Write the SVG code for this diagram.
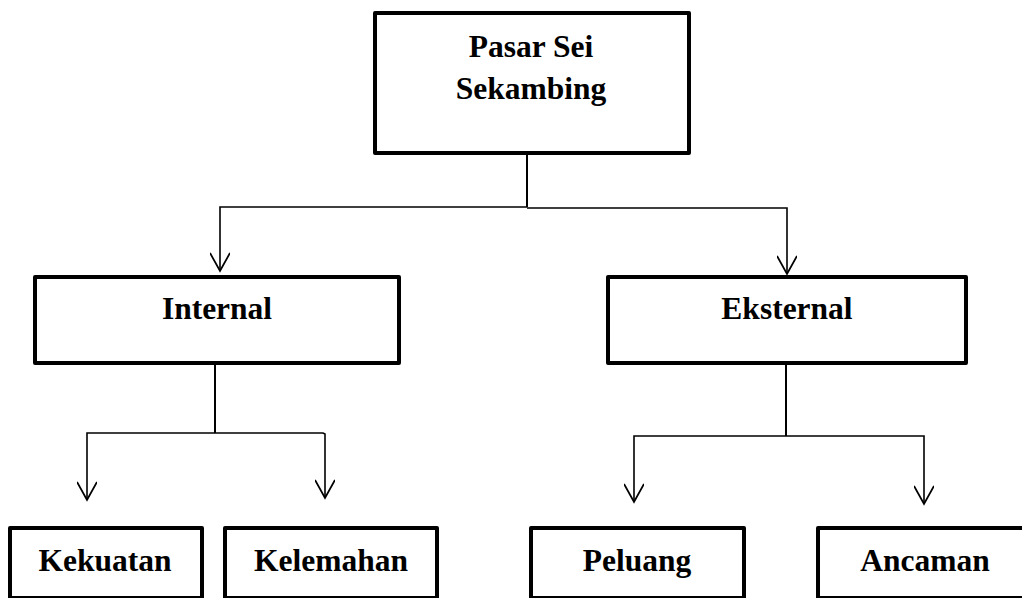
<svg xmlns="http://www.w3.org/2000/svg" width="1022" height="598" viewBox="0 0 1022 598">
<style>
.box{fill:#fff;stroke:#000;stroke-width:4;stroke-linejoin:round}
.lbl{font-family:"Liberation Serif","Times New Roman",serif;font-weight:bold;font-size:31.5px;fill:#000;text-anchor:middle}
.ln{fill:none;stroke:#000;stroke-width:1.6}
</style>
<defs>
<marker id="arr" viewBox="0 0 24 20" refX="22" refY="10" markerWidth="24" markerHeight="20" markerUnits="userSpaceOnUse" orient="auto">
<path d="M4,0 L22,10 L4,20" fill="none" stroke="#000" stroke-width="1.8"/>
</marker>
</defs>
<rect width="1022" height="598" fill="#fff"/>
<g id="connectors">
<line class="ln" x1="527" y1="153" x2="527" y2="207" style="stroke-width:2"/>
<polyline class="ln" points="527,207 220,207 220,271" marker-end="url(#arr)"/>
<polyline class="ln" points="527,208 787,208 787,274" marker-end="url(#arr)"/>
<line class="ln" x1="215" y1="363" x2="215" y2="433" style="stroke-width:2"/>
<polyline class="ln" points="215,433 87,433 87,500" marker-end="url(#arr)"/>
<polyline class="ln" points="215,433 323,433 325,434 325,498" marker-end="url(#arr)"/>
<line class="ln" x1="786" y1="363" x2="786" y2="436" style="stroke-width:2"/>
<polyline class="ln" points="786,436 634,436 634,502" marker-end="url(#arr)"/>
<polyline class="ln" points="786,436 924,436 924,504" marker-end="url(#arr)"/>
</g>
<g id="node-pasar">
<rect class="box" x="375" y="13" width="314" height="140"/>
<text class="lbl" x="531" y="57">Pasar Sei</text>
<text class="lbl" x="531" y="99">Sekambing</text>
</g>
<g id="node-internal">
<rect class="box" x="35" y="277" width="364" height="86"/>
<text class="lbl" x="217" y="319">Internal</text>
</g>
<g id="node-eksternal">
<rect class="box" x="608" y="277" width="358" height="86"/>
<text class="lbl" x="787" y="319">Eksternal</text>
</g>
<g id="node-kekuatan">
<rect class="box" x="10" y="528" width="192" height="70"/>
<text class="lbl" x="105" y="571">Kekuatan</text>
</g>
<g id="node-kelemahan">
<rect class="box" x="225" y="528" width="212" height="70"/>
<text class="lbl" x="331" y="571">Kelemahan</text>
</g>
<g id="node-peluang">
<rect class="box" x="531" y="528" width="213" height="70"/>
<text class="lbl" x="637" y="571">Peluang</text>
</g>
<g id="node-ancaman">
<rect class="box" x="818" y="528" width="214" height="70"/>
<text class="lbl" x="925" y="571">Ancaman</text>
</g>
</svg>
